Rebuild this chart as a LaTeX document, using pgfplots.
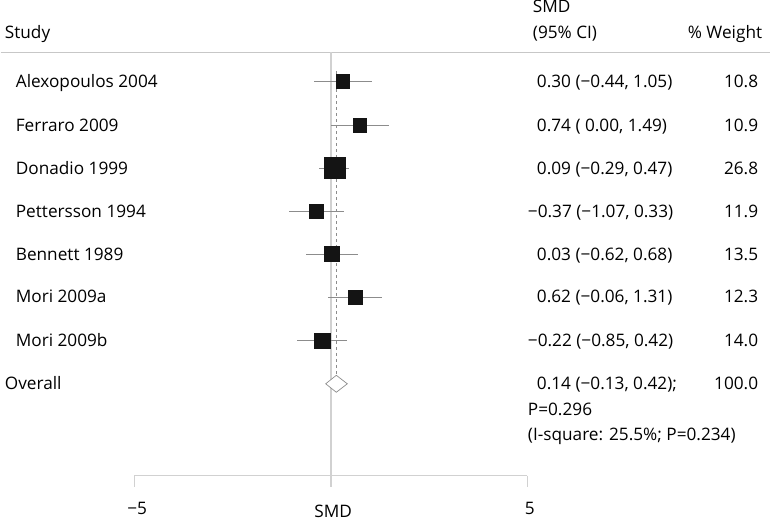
\documentclass[border=0pt]{standalone}
\usepackage{pgfplots}
\pgfplotsset{compat=1.18}
\usepackage{pgfplotstable}
\usepackage{fontspec}
\setmainfont{Open Sans}
\newcommand{\mi}{\char"2212\relax}
\newcommand{\f}{\fontsize{17.3}{20}\selectfont}

% one row per study: row position (px from top), SMD, 95% CI, weight
\pgfplotstableread{
y    est    lo     hi    w
84   0.30  -0.44  1.05  10.8
128  0.74   0.00  1.49  10.9
171  0.09  -0.29  0.47  26.8
214 -0.37  -1.07  0.33  11.9
257  0.03  -0.62  0.68  13.5
300  0.62  -0.06  1.31  12.3
344 -0.22  -0.85  0.42  14.0
}\studies

\begin{document}
\begin{tikzpicture}[lbl/.style={font=\f, inner sep=0pt, text=black}]
\begin{axis}[
    scale only axis, width=771bp, height=525bp,
    xmin=-8.404, xmax=11.189, ymin=0, ymax=525,
    y dir=reverse, hide axis, clip=false,
]
% header rule, line of no effect and x axis
\draw[black!22, line width=1.4bp] (axis cs:-8.404,55) -- (axis cs:11.189,55);
\draw[black!18, line width=2bp] (axis cs:0,55) -- (axis cs:0,490);
\draw[black!18, line width=1.4bp] (axis cs:-5,479) -- (axis cs:5,479);
\draw[black!18, line width=1.4bp] (axis cs:-5,479) -- (axis cs:-5,490);
\draw[black!18, line width=1.4bp] (axis cs:5,479) -- (axis cs:5,490);

% pooled estimate reference line
\addplot[black!45, line width=0.7bp, dash pattern=on 3bp off 3bp] coordinates {(0.14,74) (0.14,378.5)};

% confidence intervals
\addplot[only marks, mark=none,
    error bars/.cd, x dir=both, x explicit, error mark=none,
    error bar style={draw=black!45, line width=0.8bp}]
    table[x=est, y=y,
          x error plus expr=\thisrow{hi}-\thisrow{est},
          x error minus expr=\thisrow{est}-\thisrow{lo}] {\studies};

% study squares, area proportional to weight
\addplot[scatter, only marks, mark=square*,
    point meta=\thisrow{w},
    scatter/use mapped color={draw=black!92, fill=black!92},
    visualization depends on={2.04*sqrt(\thisrow{w}) \as \msz},
    scatter/@pre marker code/.append style={/tikz/mark size=\msz}]
    table[x=est, y=y] {\studies};

% overall diamond
\addplot[draw=black!45, fill=white, line width=0.7bp] coordinates {
    (-0.13,387) (0.14,378.5) (0.42,387) (0.14,395.5)} -- cycle;

% column headers
\node[lbl, anchor=base west] at (axis cs:-8.302,41) {Study};
\node[lbl, anchor=base west] at (axis cs:5.141,15) {SMD};
\node[lbl, anchor=base west] at (axis cs:5.141,41) {(95\% CI)};
\node[lbl, anchor=base east] at (axis cs:10.986,41) {\% Weight};

% study labels
\node[lbl, anchor=base west] at (axis cs:-8.023,90) {Alexopoulos 2004};
\node[lbl, anchor=base west] at (axis cs:-8.023,134) {Ferraro 2009};
\node[lbl, anchor=base west] at (axis cs:-8.023,177) {Donadio 1999};
\node[lbl, anchor=base west] at (axis cs:-8.023,220) {Pettersson 1994};
\node[lbl, anchor=base west] at (axis cs:-8.023,263) {Bennett 1989};
\node[lbl, anchor=base west] at (axis cs:-8.023,306) {Mori 2009a};
\node[lbl, anchor=base west] at (axis cs:-8.023,350) {Mori 2009b};
\node[lbl, anchor=base west] at (axis cs:-8.302,393) {Overall};

% estimates and CIs
\node[lbl, anchor=base west] at (axis cs:5.243,90) {0.30 (\mi0.44, 1.05)};
\node[lbl, anchor=base west] at (axis cs:5.243,134) {0.74 ( 0.00, 1.49)};
\node[lbl, anchor=base west] at (axis cs:5.243,177) {0.09 (\mi0.29, 0.47)};
\node[lbl, anchor=base west] at (axis cs:5.014,220) {\mi0.37 (\mi1.07, 0.33)};
\node[lbl, anchor=base west] at (axis cs:5.243,263) {0.03 (\mi0.62, 0.68)};
\node[lbl, anchor=base west] at (axis cs:5.243,306) {0.62 (\mi0.06, 1.31)};
\node[lbl, anchor=base west] at (axis cs:5.014,350) {\mi0.22 (\mi0.85, 0.42)};
\node[lbl, anchor=base west] at (axis cs:5.243,393) {0.14 (\mi0.13, 0.42);};
\node[lbl, anchor=base west] at (axis cs:5.014,419) {P=0.296};
\node[lbl, anchor=base west] at (axis cs:5.014,444) {(I-square: 25.5\%; P=0.234)};

% weights
\node[lbl, anchor=base east] at (axis cs:10.884,90) {10.8};
\node[lbl, anchor=base east] at (axis cs:10.884,134) {10.9};
\node[lbl, anchor=base east] at (axis cs:10.884,177) {26.8};
\node[lbl, anchor=base east] at (axis cs:10.884,220) {11.9};
\node[lbl, anchor=base east] at (axis cs:10.884,263) {13.5};
\node[lbl, anchor=base east] at (axis cs:10.884,306) {12.3};
\node[lbl, anchor=base east] at (axis cs:10.884,350) {14.0};
\node[lbl, anchor=base east] at (axis cs:10.884,393) {100.0};

% x axis labels
\node[lbl, anchor=base] at (axis cs:-4.93,518) {\mi5};
\node[lbl, anchor=base] at (axis cs:5.065,518) {5};
\node[lbl, anchor=base] at (axis cs:0.058,521) {SMD};
\end{axis}
\end{tikzpicture}
\end{document}
